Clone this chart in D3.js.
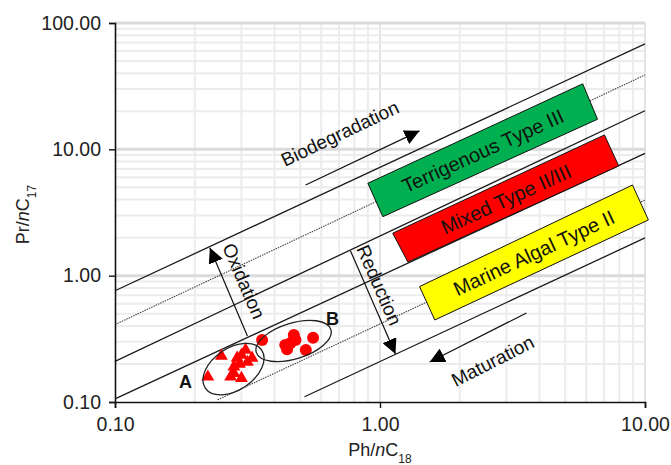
<!DOCTYPE html>
<html>
<head>
<meta charset="utf-8">
<script src="https://cdn.jsdelivr.net/npm/d3@7"></script>
<style>
    body { margin: 0; background: #fff; }
    svg { display: block; font-family: Arial, "Liberation Sans", sans-serif; }
</style>
</head>
<body>
<div id="chart"></div>
<script>
// ---- data ----
const xTicks = [0.1, 1, 10];
const yTicks = [0.1, 1, 10, 100];
const xTickLabels = ['0.10', '1.00', '10.00'];
const yTickLabels = ['0.10', '1.00', '10.00', '100.00'];

// group A (triangles) and group B (circles): [Ph/nC18, Pr/nC17]
const groupA = [
    [0.224, 0.158], [0.252, 0.231], [0.289, 0.223], [0.311, 0.258],
    [0.329, 0.223], [0.300, 0.235], [0.281, 0.190], [0.295, 0.200],
    [0.281, 0.169], [0.300, 0.154], [0.273, 0.158], [0.316, 0.207]
];
const groupB = [
    [0.359, 0.310], [0.439, 0.283], [0.446, 0.261], [0.473, 0.339],
    [0.480, 0.310], [0.460, 0.293], [0.525, 0.258], [0.559, 0.323]
];

// diagonal boundary lines, endpoints in data units
const solidLines = [
    [[0.1, 0.76], [10, 68.4]],
    [[0.1, 0.21], [10, 20.2]],
    [[0.1, 0.106], [10, 9.3]],
    [[0.519, 0.11], [10, 1.99]]
];
const dottedLines = [
    [[0.1, 0.41], [10, 38.8]],
    [[0.244, 0.104], [10, 3.97]]
];

// kerogen type zones, corners in data units
const zoneNames = ['Terrigenous Type III', 'Mixed Type II/III', 'Marine Algal Type II'];
const zoneColors = ['#00b050', '#ff0000', '#ffff00'];
const zoneCorners = [
    [[0.90, 5.39], [1.025, 2.93], [6.62, 17.3], [5.82, 33.0]],
    [[1.117, 2.17], [1.274, 1.28], [7.96, 7.39], [7.03, 13.0]],
    [[1.41, 0.82], [1.61, 0.446], [10.3, 2.76], [8.97, 5.22]]
];

// process arrows: from -> to, in data units
const arrowNames = ['Biodegradation', 'Oxidation', 'Reduction', 'Maturation'];
const arrowPaths = [
    [[0.524, 5.22], [1.41, 14.0]],
    [[0.316, 0.333], [0.228, 1.66]],
    [[0.774, 1.57], [1.144, 0.24]],
    [[3.57, 0.507], [1.54, 0.207]]
];
const arrowLabelAt = [[0.705, 13.4], [0.307, 0.908], [0.995, 0.843], [2.66, 0.212]];

// cluster outlines
const clusterNames = ['A', 'B'];
const clusterCentres = [[0.280, 0.182], [0.472, 0.304]];
const clusterLabelAt = [[0.1845, 0.144], [0.662, 0.462]];

// ---- layout ----
const W = 671, H = 465;
const margin = { top: 23, right: 26, bottom: 63, left: 115 };
const width = W - margin.left - margin.right;
const height = H - margin.top - margin.bottom;

const svg = d3.select('#chart').append('svg')
    .attr('width', W)
    .attr('height', H);

const g = svg.append('g')
    .attr('transform', `translate(${margin.left},${margin.top})`);

const x = d3.scaleLog().domain([0.1, 10]).range([0, width]);
const y = d3.scaleLog().domain([0.1, 100]).range([height, 0]);
const px = d => [x(d[0]), y(d[1])];

// grid
const gridX = x.ticks().filter(v => v > 0.1);
const gridY = y.ticks().filter(v => v > 0.1);
const isMajor = v => Math.abs(Math.log10(v) - Math.round(Math.log10(v))) < 1e-6;

g.append('g').selectAll('line')
    .data(gridX)
    .enter().append('line')
    .attr('x1', d => x(d)).attr('x2', d => x(d))
    .attr('y1', 0).attr('y2', height)
    .attr('stroke', d => isMajor(d) ? '#e2e2e2' : '#ececec')
    .attr('stroke-width', 2);

g.append('g').selectAll('line')
    .data(gridY)
    .enter().append('line')
    .attr('x1', 0).attr('x2', width)
    .attr('y1', d => y(d)).attr('y2', d => y(d))
    .attr('stroke', d => isMajor(d) ? '#dadada' : '#ececec')
    .attr('stroke-width', d => isMajor(d) ? 3 : 2);

// diagonal lines
const line = d3.line().x(d => x(d[0])).y(d => y(d[1]));
g.append('g').selectAll('path')
    .data(solidLines)
    .enter().append('path')
    .attr('d', line)
    .attr('fill', 'none')
    .attr('stroke', '#1a1a1a')
    .attr('stroke-width', 1.3);

g.append('g').selectAll('path')
    .data(dottedLines)
    .enter().append('path')
    .attr('d', line)
    .attr('fill', 'none')
    .attr('stroke', '#444')
    .attr('stroke-width', 1.1)
    .attr('stroke-dasharray', '1.5,1');

// zones
const zones = g.append('g').selectAll('g')
    .data(zoneNames)
    .enter().append('g');

zones.append('path')
    .attr('d', (d, i) => line(zoneCorners[i]) + 'Z')
    .attr('fill', (d, i) => zoneColors[i])
    .attr('stroke', '#111')
    .attr('stroke-width', 1);

zones.append('text')
    .attr('transform', (d, i) => {
        const c = zoneCorners[i].map(px);
        const cx = d3.mean(c, p => p[0]);
        const cy = d3.mean(c, p => p[1]);
        const ang = Math.atan2(c[2][1] - c[1][1], c[2][0] - c[1][0]) * 180 / Math.PI;
        return `translate(${cx},${cy}) rotate(${ang})`;
    })
    .attr('text-anchor', 'middle')
    .attr('dy', '0.36em')
    .style('font-size', '20px')
    .attr('fill', '#111')
    .text(d => d);

// arrows
svg.append('defs').append('marker')
    .attr('id', 'head')
    .attr('viewBox', '0 0 12 12')
    .attr('refX', 12).attr('refY', 6)
    .attr('markerWidth', 15).attr('markerHeight', 15)
    .attr('markerUnits', 'userSpaceOnUse')
    .attr('orient', 'auto')
    .append('path')
    .attr('d', 'M0,0 L12,6 L0,12 Z')
    .attr('fill', '#000');

const arrows = g.append('g').selectAll('g')
    .data(arrowNames)
    .enter().append('g');

arrows.append('path')
    .attr('d', (d, i) => line(arrowPaths[i]))
    .attr('stroke', '#111')
    .attr('stroke-width', 1.2)
    .attr('fill', 'none')
    .attr('marker-end', 'url(#head)');

arrows.append('text')
    .attr('transform', (d, i) => {
        const a = px(arrowPaths[i][0]), b = px(arrowPaths[i][1]);
        let ang = Math.atan2(b[1] - a[1], b[0] - a[0]) * 180 / Math.PI;
        if (ang > 90) ang -= 180;
        if (ang < -90) ang += 180;
        const p = px(arrowLabelAt[i]);
        return `translate(${p[0]},${p[1]}) rotate(${ang})`;
    })
    .attr('text-anchor', 'middle')
    .attr('dy', '0.36em')
    .style('font-size', '19px')
    .attr('fill', '#111')
    .text(d => d);

// data points
g.append('g').selectAll('path')
    .data(groupA)
    .enter().append('path')
    .attr('transform', d => `translate(${x(d[0])},${y(d[1])})`)
    .attr('d', d3.symbol().type(d3.symbolTriangle).size(72))
    .attr('fill', '#ff0000');

g.append('g').selectAll('circle')
    .data(groupB)
    .enter().append('circle')
    .attr('cx', d => x(d[0]))
    .attr('cy', d => y(d[1]))
    .attr('r', 6)
    .attr('fill', '#ff0000');

// cluster ellipses
const ellipseShape = [{ rx: 34, ry: 21, rot: -34 }, { rx: 39, ry: 18, rot: -17 }];
g.append('g').selectAll('ellipse')
    .data(clusterCentres)
    .enter().append('ellipse')
    .attr('transform', (d, i) => `translate(${x(d[0])},${y(d[1])}) rotate(${ellipseShape[i].rot})`)
    .attr('rx', (d, i) => ellipseShape[i].rx)
    .attr('ry', (d, i) => ellipseShape[i].ry)
    .attr('fill', 'none')
    .attr('stroke', '#222')
    .attr('stroke-width', 1.3);

g.append('g').selectAll('text')
    .data(clusterNames)
    .enter().append('text')
    .attr('x', (d, i) => x(clusterLabelAt[i][0]))
    .attr('y', (d, i) => y(clusterLabelAt[i][1]))
    .attr('text-anchor', 'middle')
    .attr('dy', '0.36em')
    .style('font-size', '18px')
    .style('font-weight', 'bold')
    .attr('fill', '#111')
    .text(d => d);

// axes
const xAxis = g.append('g')
    .attr('transform', `translate(0,${height})`)
    .call(d3.axisBottom(x).tickValues(xTicks).tickSize(6).tickFormat((d, i) => xTickLabels[i]));
const yAxis = g.append('g')
    .call(d3.axisLeft(y).tickValues(yTicks).tickSize(6).tickFormat((d, i) => yTickLabels[i]));

[xAxis, yAxis].forEach(ax => {
    ax.select('.domain').attr('stroke', '#111').attr('stroke-width', 1.6);
    ax.selectAll('.tick line').attr('stroke', '#111').attr('stroke-width', 1.4);
    ax.selectAll('.tick text')
        .style('font-size', '19.5px')
        .style('font-family', 'Arial, "Liberation Sans", sans-serif')
        .attr('fill', '#222');
});
xAxis.selectAll('.tick text').attr('dy', '1.0em');
yAxis.selectAll('.tick text').attr('x', -14);

// axis titles
const yTitle = svg.append('text')
    .attr('transform', `translate(29,${margin.top + height / 2 + 2}) rotate(-90)`)
    .attr('text-anchor', 'middle')
    .style('font-size', '18px')
    .attr('fill', '#222');
yTitle.append('tspan').text('Pr/');
yTitle.append('tspan').style('font-style', 'italic').text('n');
yTitle.append('tspan').text('C');
yTitle.append('tspan').attr('baseline-shift', 'sub').style('font-size', '12px').text('17');

const xTitle = svg.append('text')
    .attr('x', margin.left + width / 2)
    .attr('y', 456)
    .attr('text-anchor', 'middle')
    .style('font-size', '18px')
    .attr('fill', '#222');
xTitle.append('tspan').text('Ph/');
xTitle.append('tspan').style('font-style', 'italic').text('n');
xTitle.append('tspan').text('C');
xTitle.append('tspan').attr('baseline-shift', 'sub').style('font-size', '12px').text('18');
</script>
</body>
</html>
